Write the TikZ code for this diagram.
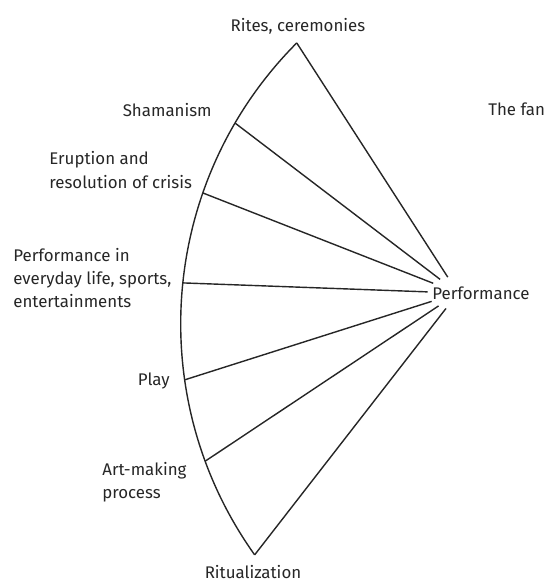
\documentclass[tikz,border=0pt]{standalone}
\usepackage{fontspec}
\setmainfont{Fira Sans}
\usetikzlibrary{shapes.geometric, calc}
\tikzstyle{fanlabel} = [inner sep=0pt, font=\fontsize{9.6}{13.3}\selectfont, text=black!85, align=left]
\tikzstyle{hubbox} = [ellipse, minimum width=1.2cm, minimum height=0.66cm, inner sep=0pt]
\tikzstyle{spoke} = [line width=0.8pt, black!85]

\begin{document}
\begin{tikzpicture}[x=0.02cm, y=0.02cm]
    \useasboundingbox (0,0) rectangle (547,583);

    % Points on the rim of the fan
    \coordinate (centre) at (578.6,259.2);
    \coordinate (rites) at ($(centre)+(135.1:7.96cm)$);
    \coordinate (shaman) at ($(centre)+(149.7:7.96cm)$);
    \coordinate (crisis) at ($(centre)+(160.8:7.96cm)$);
    \coordinate (everyday) at ($(centre)+(174.1:7.96cm)$);
    \coordinate (play) at ($(centre)+(188.1:7.96cm)$);
    \coordinate (artmaking) at ($(centre)+(200.2:7.96cm)$);
    \coordinate (ritual) at ($(centre)+(215.5:7.96cm)$);

    % Hub and its label
    \node[hubbox] (hub) at (458,290) {};
    \node[fanlabel, anchor=west] (performance) at (432,290) {Performance};
    \node[fanlabel, anchor=west] (title) at (488,474) {The fan};

    % Labels round the rim
    \node[fanlabel] (riteslbl) at (298,557) {Rites, ceremonies};
    \node[fanlabel, anchor=east] (shamanlbl) at (212,473) {Shamanism};
    \node[fanlabel, anchor=west] (crisislbl) at (49,413) {Eruption and\\resolution of crisis};
    \node[fanlabel, anchor=west] (everydaylbl) at (13,305) {Performance in\\everyday life, sports,\\entertainments};
    \node[fanlabel, anchor=east] (playlbl) at (170,202) {Play};
    \node[fanlabel, anchor=west] (artlbl) at (102,101) {Art-making\\process};
    \node[fanlabel] (rituallbl) at (253,11) {Ritualization};

    % Rim
    \draw[spoke] (rites) arc[start angle=135.1, end angle=215.5, radius=7.96cm];

    % Spokes
    \draw[spoke] (rites) -- (hub);
    \draw[spoke] (shaman) -- (hub);
    \draw[spoke] (crisis) -- (hub);
    \draw[spoke] (everyday) -- (hub);
    \draw[spoke] (play) -- (hub);
    \draw[spoke] (artmaking) -- (hub);
    \draw[spoke] (ritual) -- (hub);
\end{tikzpicture}
\end{document}
